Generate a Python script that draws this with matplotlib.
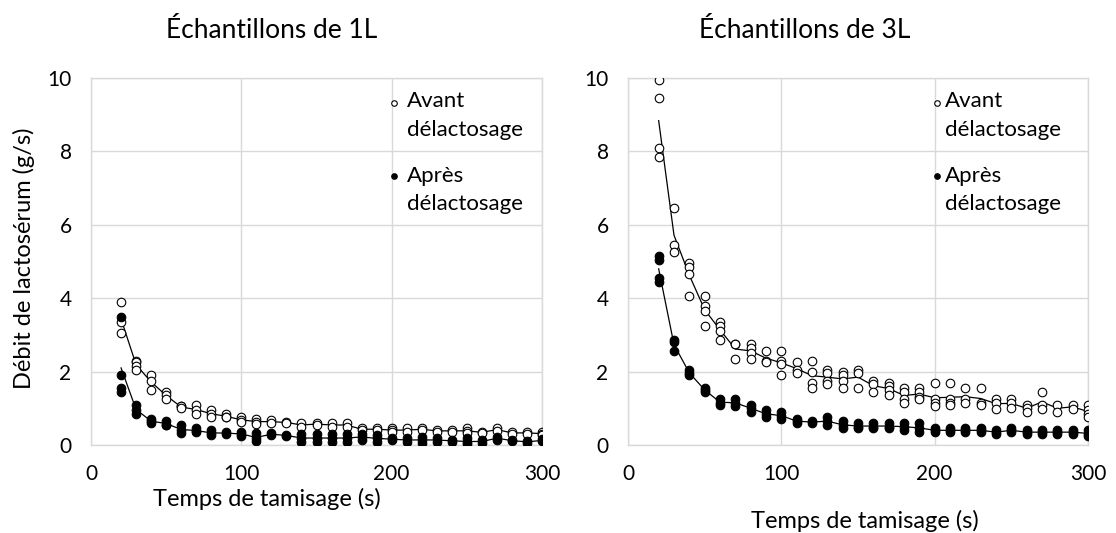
import numpy as np
import matplotlib
matplotlib.use('Agg')
import matplotlib.pyplot as plt

plt.rcParams['font.family'] = ['Lato', 'DejaVu Sans']

# temps de tamisage (s)
times = list(range(20, 301, 10))

# replicats, un sous-liste par temps
avant_1L = [
    [3.9, 3.35, 3.05], [2.3, 2.25, 2.15, 2.05], [1.9, 1.75, 1.5], [1.45, 1.35, 1.25],
    [1.05, 1.05, 1.0], [1.1, 0.95, 0.85], [0.95, 0.85, 0.75], [0.85, 0.75, 0.75],
    [0.75, 0.68, 0.62], [0.72, 0.62, 0.58], [0.68, 0.59], [0.64, 0.59],
    [0.59, 0.5], [0.59, 0.55], [0.59, 0.5], [0.59, 0.5], [0.45, 0.41], [0.45, 0.41],
    [0.45, 0.41, 0.36], [0.45, 0.36], [0.45, 0.41], [0.41, 0.36], [0.41, 0.36],
    [0.45, 0.39, 0.32], [0.36, 0.33], [0.45, 0.39], [0.36, 0.3], [0.36, 0.3],
    [0.36, 0.3, 0.27],
]
apres_1L = [
    [3.5, 1.9, 1.55, 1.45], [1.1, 0.95, 0.85], [0.7, 0.65, 0.6], [0.65, 0.55, 0.55],
    [0.55, 0.4, 0.32], [0.45, 0.38, 0.35], [0.4, 0.32, 0.27], [0.35, 0.3],
    [0.35, 0.3, 0.25], [0.32, 0.2, 0.1], [0.32, 0.27], [0.27, 0.25],
    [0.3, 0.18, 0.09], [0.3, 0.18, 0.09], [0.3, 0.18, 0.09], [0.3, 0.18, 0.09],
    [0.3, 0.22, 0.14], [0.27, 0.18, 0.09], [0.18, 0.14], [0.18, 0.09],
    [0.23, 0.14, 0.05], [0.18, 0.09], [0.14, 0.09], [0.18, 0.09, 0.02],
    [0.14, 0.05], [0.23, 0.14], [0.14, 0.1], [0.12, 0.05], [0.15, 0.1],
]
avant_3L = [
    [9.95, 9.45, 8.1, 7.85], [6.45, 5.45, 5.25], [4.95, 4.85, 4.65, 4.05],
    [4.05, 3.8, 3.65, 3.25], [3.35, 3.25, 3.1, 2.85], [2.75, 2.75, 2.35],
    [2.75, 2.65, 2.5, 2.35], [2.55, 2.3, 2.25], [2.55, 2.3, 2.2, 1.9],
    [2.25, 2.05, 1.95], [2.3, 2.0, 1.7, 1.55], [2.05, 1.95, 1.75, 1.65],
    [2.0, 1.9, 1.75, 1.55], [2.05, 1.95, 1.55], [1.75, 1.65, 1.45],
    [1.7, 1.6, 1.5, 1.35], [1.55, 1.45, 1.25, 1.15], [1.55, 1.45, 1.3, 1.25],
    [1.7, 1.25, 1.15, 1.05], [1.7, 1.25, 1.15, 1.1], [1.55, 1.25, 1.15],
    [1.55, 1.15, 1.1], [1.25, 1.15, 0.98], [1.25, 1.15, 1.0], [1.1, 1.0, 0.9],
    [1.45, 1.1, 0.98], [1.1, 0.9], [1.1, 0.98], [1.1, 0.95, 0.85, 0.75],
]
apres_3L = [
    [5.15, 5.05, 4.55, 4.45], [2.85, 2.8, 2.55], [2.05, 1.95, 1.9], [1.55, 1.5, 1.45],
    [1.25, 1.15, 1.1], [1.25, 1.15, 1.05], [1.1, 1.0, 0.9], [0.95, 0.85, 0.75],
    [0.9, 0.8, 0.7], [0.7, 0.65, 0.6], [0.65, 0.6], [0.75, 0.65, 0.55],
    [0.65, 0.55, 0.45], [0.6, 0.5, 0.45], [0.6, 0.5, 0.45], [0.6, 0.5, 0.45],
    [0.6, 0.5, 0.4], [0.6, 0.45, 0.35], [0.45, 0.4, 0.35], [0.45, 0.4, 0.35],
    [0.45, 0.4, 0.35], [0.45, 0.4, 0.35], [0.4, 0.35, 0.3], [0.45, 0.4, 0.35],
    [0.4, 0.35, 0.3], [0.4, 0.35, 0.3], [0.4, 0.35, 0.3], [0.4, 0.35, 0.3],
    [0.4, 0.3, 0.25],
]

titles = ['Échantillons de 1L', 'Échantillons de 3L']


def draw_series(ax, reps, face):
    xs = [t for t, r in zip(times, reps) for _ in r]
    ys = [v for r in reps for v in r]
    means = [np.mean(r) for r in reps]
    ax.plot(times, means, color='black', lw=0.9, zorder=2)
    ax.scatter(xs, ys, s=38, facecolors=face, edgecolors='black',
               linewidths=0.8, zorder=3)


fig = plt.figure(figsize=(11.16, 5.33), dpi=100)
ax1 = fig.add_axes([91 / 1116, 88 / 533, 451 / 1116, 367 / 533])
ax2 = fig.add_axes([628 / 1116, 88 / 533, 460 / 1116, 367 / 533])

for ax, av, ap in [(ax1, avant_1L, apres_1L), (ax2, avant_3L, apres_3L)]:
    draw_series(ax, av, 'white')
    draw_series(ax, ap, 'black')
    ax.set_xlim(0, 300)
    ax.set_ylim(0, 10)
    ax.set_xticks([0, 100, 200, 300])
    ax.set_yticks(range(0, 11, 2))
    ax.grid(True, color='#d9d9d9', lw=1.0)
    ax.set_axisbelow(True)
    for s in ax.spines.values():
        s.set_color('#d9d9d9')
        s.set_linewidth(1.0)
    ax.tick_params(length=0, labelsize=15, pad=14)
    ax.tick_params(axis='x', pad=14)

    # legende maison (marqueur + texte sur deux lignes)
    ax.scatter([0.672], [0.932], s=16, facecolors='white', edgecolors='black',
               linewidths=0.8, transform=ax.transAxes, clip_on=False, zorder=4)
    ax.scatter([0.672], [0.733], s=16, facecolors='black', edgecolors='black',
               linewidths=0.8, transform=ax.transAxes, clip_on=False, zorder=4)
    tx = 0.70 if ax is ax1 else 0.69
    ax.text(tx, 0.921, 'Avant', transform=ax.transAxes, fontsize=16, va='baseline')
    ax.text(tx, 0.842, 'délactosage', transform=ax.transAxes, fontsize=16, va='baseline')
    ax.text(tx, 0.717, 'Après', transform=ax.transAxes, fontsize=16, va='baseline')
    ax.text(tx, 0.640, 'délactosage', transform=ax.transAxes, fontsize=16, va='baseline')

fig.text(272 / 1116, 1 - 30 / 533, titles[0], ha='center', va='center', fontsize=19)
fig.text(805 / 1116, 1 - 30 / 533, titles[1], ha='center', va='center', fontsize=19)
fig.text(24 / 1116, 1 - 258 / 533, 'Débit de lactosérum (g/s)', rotation=90,
         ha='center', va='center', fontsize=17)
fig.text(267 / 1116, 1 - 499 / 533, 'Temps de tamisage (s)', ha='center', va='center', fontsize=17)
fig.text(865 / 1116, 1 - 521 / 533, 'Temps de tamisage (s)', ha='center', va='center', fontsize=17)

plt.savefig('out.png', dpi=100)
